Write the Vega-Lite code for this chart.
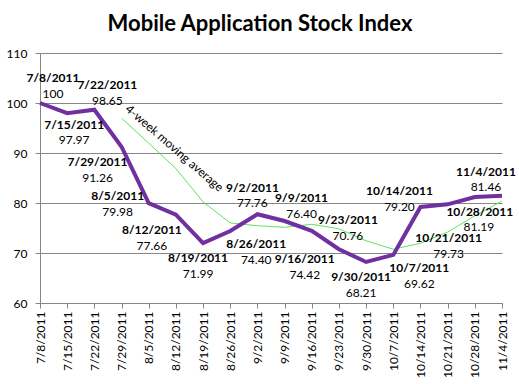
{
  "$schema": "https://vega.github.io/schema/vega-lite/v6.json",
  "width": 466,
  "height": 250,
  "autosize": "none",
  "padding": {"left": 40, "top": 53, "right": 13, "bottom": 81},
  "background": "white",
  "config": {
    "view": {"stroke": null},
    "font": "Lato",
    "text": {"font": "Lato", "fontSize": 12, "color": "#000000"}
  },
  "title": {
    "text": "Mobile Application Stock Index",
    "font": "Lato",
    "fontSize": 22,
    "fontWeight": "bold",
    "color": "#000000",
    "anchor": "middle",
    "frame": "group",
    "dx": -13,
    "offset": 11
  },
  "datasets": {
    "main": [
      {"date": "7/8/2011", "index": 100, "txt": "100", "ma": null},
      {"date": "7/15/2011", "index": 97.97, "txt": "97.97", "ma": null},
      {"date": "7/22/2011", "index": 98.65, "txt": "98.65", "ma": null},
      {"date": "7/29/2011", "index": 91.26, "txt": "91.26", "ma": 96.97},
      {"date": "8/5/2011", "index": 79.98, "txt": "79.98", "ma": 91.97},
      {"date": "8/12/2011", "index": 77.66, "txt": "77.66", "ma": 86.89},
      {"date": "8/19/2011", "index": 71.99, "txt": "71.99", "ma": 80.22},
      {"date": "8/26/2011", "index": 74.40, "txt": "74.40", "ma": 76.01},
      {"date": "9/2/2011", "index": 77.76, "txt": "77.76", "ma": 75.45},
      {"date": "9/9/2011", "index": 76.40, "txt": "76.40", "ma": 75.14},
      {"date": "9/16/2011", "index": 74.42, "txt": "74.42", "ma": 75.75},
      {"date": "9/23/2011", "index": 70.76, "txt": "70.76", "ma": 74.84},
      {"date": "9/30/2011", "index": 68.21, "txt": "68.21", "ma": 72.45},
      {"date": "10/7/2011", "index": 69.62, "txt": "69.62", "ma": 70.75},
      {"date": "10/14/2011", "index": 79.20, "txt": "79.20", "ma": 71.95},
      {"date": "10/21/2011", "index": 79.73, "txt": "79.73", "ma": 74.19},
      {"date": "10/28/2011", "index": 81.19, "txt": "81.19", "ma": 77.44},
      {"date": "11/4/2011", "index": 81.46, "txt": "81.46", "ma": 80.40}
    ],
    "note": [
      {"date": "8/12/2011", "index": 90.7, "txt": "4-week moving average"}
    ]
  },
  "data": {"name": "main"},
  "encoding": {
    "x": {
      "field": "date", "type": "ordinal", "sort": null,
      "scale": {"type": "point", "range": [0, 462], "padding": 0},
      "axis": {
        "title": null, "labelAngle": -90, "labelAlign": "right", "labelBaseline": "middle",
        "labelFont": "Lato", "labelFontSize": 12, "labelColor": "#000000",
        "domainColor": "#868686", "tickColor": "#868686", "tickSize": 5, "labelPadding": 3,
        "grid": false, "labelOverlap": false
      }
    },
    "y": {
      "field": "index", "type": "quantitative",
      "scale": {"domain": [60, 110], "nice": false, "zero": false},
      "axis": {
        "title": null, "values": [60, 70, 80, 90, 100, 110],
        "labelFont": "Lato", "labelFontSize": 12, "labelColor": "#000000",
        "domainColor": "#868686", "tickColor": "#868686", "tickSize": 5, "labelPadding": 8,
        "gridColor": "#868686", "gridWidth": 1, "grid": true
      }
    }
  },
  "layer": [
    {"mark": {"type": "line", "color": "#5de35d", "strokeWidth": 1}, "encoding": {"y": {"field": "ma", "type": "quantitative"}}},
    {"mark": {"type": "line", "color": "#7030a0", "strokeWidth": 4}},
    {"data": {"name": "note"}, "mark": {"type": "text", "angle": 41, "dx": -2, "fontSize": 12}, "encoding": {"text": {"field": "txt"}}},

    {"transform": [{"filter": {"field": "date", "oneOf": ["7/8/2011", "7/22/2011"]}}], "layer": [
      {"mark": {"type": "text", "fontWeight": "bold", "dx": 13, "dy": -25}, "encoding": {"text": {"field": "date"}}},
      {"mark": {"type": "text", "dx": 13, "dy": -9}, "encoding": {"text": {"field": "txt"}}}]},
    {"transform": [{"filter": {"field": "date", "oneOf": ["9/9/2011"]}}], "layer": [
      {"mark": {"type": "text", "fontWeight": "bold", "dx": 17, "dy": -23}, "encoding": {"text": {"field": "date"}}},
      {"mark": {"type": "text", "dx": 17, "dy": -7}, "encoding": {"text": {"field": "txt"}}}]},
    {"transform": [{"filter": {"field": "date", "oneOf": ["9/23/2011"]}}], "layer": [
      {"mark": {"type": "text", "fontWeight": "bold", "dx": 9, "dy": -29}, "encoding": {"text": {"field": "date"}}},
      {"mark": {"type": "text", "dx": 9, "dy": -13}, "encoding": {"text": {"field": "txt"}}}]},
    {"transform": [{"filter": {"field": "date", "oneOf": ["9/2/2011"]}}], "layer": [
      {"mark": {"type": "text", "fontWeight": "bold", "dx": -5, "dy": -26}, "encoding": {"text": {"field": "date"}}},
      {"mark": {"type": "text", "dx": -5, "dy": -11}, "encoding": {"text": {"field": "txt"}}}]},
    {"transform": [{"filter": {"field": "date", "oneOf": ["11/4/2011"]}}], "layer": [
      {"mark": {"type": "text", "fontWeight": "bold", "dx": -16, "dy": -24}, "encoding": {"text": {"field": "date"}}},
      {"mark": {"type": "text", "dx": -16, "dy": -9}, "encoding": {"text": {"field": "txt"}}}]},
    {"transform": [{"filter": {"field": "date", "oneOf": ["10/14/2011"]}}], "layer": [
      {"mark": {"type": "text", "fontWeight": "bold", "dx": -21, "dy": -16}, "encoding": {"text": {"field": "date"}}},
      {"mark": {"type": "text", "dx": -21, "dy": 0}, "encoding": {"text": {"field": "txt"}}}]},
    {"transform": [{"filter": {"field": "date", "oneOf": ["8/5/2011"]}}], "layer": [
      {"mark": {"type": "text", "fontWeight": "bold", "dx": -31, "dy": -7}, "encoding": {"text": {"field": "date"}}},
      {"mark": {"type": "text", "dx": -31, "dy": 9}, "encoding": {"text": {"field": "txt"}}}]},
    {"transform": [{"filter": {"field": "date", "oneOf": ["7/15/2011"]}}], "layer": [
      {"mark": {"type": "text", "fontWeight": "bold", "dx": 7, "dy": 12}, "encoding": {"text": {"field": "date"}}},
      {"mark": {"type": "text", "dx": 7, "dy": 27}, "encoding": {"text": {"field": "txt"}}}]},
    {"transform": [{"filter": {"field": "date", "oneOf": ["8/19/2011", "9/30/2011"]}}], "layer": [
      {"mark": {"type": "text", "fontWeight": "bold", "dx": -5, "dy": 15}, "encoding": {"text": {"field": "date"}}},
      {"mark": {"type": "text", "dx": -5, "dy": 31}, "encoding": {"text": {"field": "txt"}}}]},
    {"transform": [{"filter": {"field": "date", "oneOf": ["10/28/2011"]}}], "layer": [
      {"mark": {"type": "text", "fontWeight": "bold", "dx": 5, "dy": 15}, "encoding": {"text": {"field": "date"}}},
      {"mark": {"type": "text", "dx": 4, "dy": 30}, "encoding": {"text": {"field": "txt"}}}]},
    {"transform": [{"filter": {"field": "date", "oneOf": ["9/16/2011"]}}], "layer": [
      {"mark": {"type": "text", "fontWeight": "bold", "dx": -7, "dy": 28}, "encoding": {"text": {"field": "date"}}},
      {"mark": {"type": "text", "dx": -7, "dy": 44}, "encoding": {"text": {"field": "txt"}}}]},
    {"transform": [{"filter": {"field": "date", "oneOf": ["10/21/2011"]}}], "layer": [
      {"mark": {"type": "text", "fontWeight": "bold", "dx": 1, "dy": 34}, "encoding": {"text": {"field": "date"}}},
      {"mark": {"type": "text", "dx": 1, "dy": 50}, "encoding": {"text": {"field": "txt"}}}]},
    {"transform": [{"filter": {"field": "date", "oneOf": ["7/29/2011", "8/12/2011"]}}], "layer": [
      {"mark": {"type": "text", "fontWeight": "bold", "dx": -24, "dy": 15}, "encoding": {"text": {"field": "date"}}},
      {"mark": {"type": "text", "dx": -24, "dy": 31}, "encoding": {"text": {"field": "txt"}}}]},
    {"transform": [{"filter": {"field": "date", "oneOf": ["8/26/2011", "10/7/2011"]}}], "layer": [
      {"mark": {"type": "text", "fontWeight": "bold", "dx": 26, "dy": 13}, "encoding": {"text": {"field": "date"}}},
      {"mark": {"type": "text", "dx": 26, "dy": 29}, "encoding": {"text": {"field": "txt"}}}]}
  ]
}
